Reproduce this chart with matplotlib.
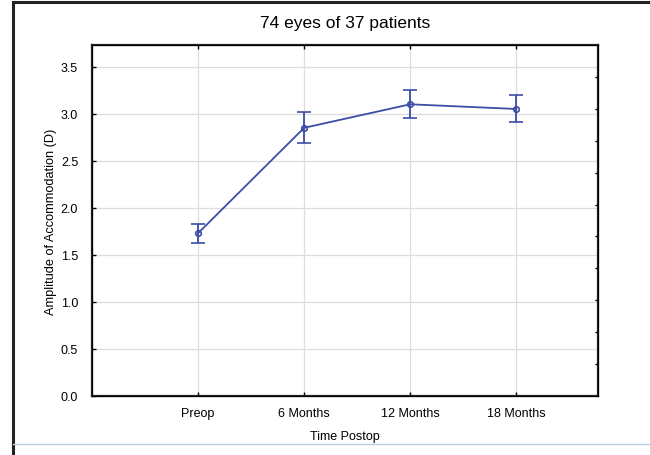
import matplotlib
matplotlib.use("Agg")
import matplotlib.pyplot as plt
import numpy as np
from matplotlib.lines import Line2D

plt.rcParams['font.family'] = ['Liberation Sans', 'DejaVu Sans']

labels = ['Preop', '6 Months', '12 Months', '18 Months']
means = [1.73, 2.85, 3.10, 3.05]
lower = [1.63, 2.69, 2.95, 2.91]
upper = [1.83, 3.02, 3.25, 3.20]

x = np.arange(1, len(labels) + 1)
yerr = [np.array(means) - np.array(lower), np.array(upper) - np.array(means)]

fig = plt.figure(figsize=(6.5, 4.56), dpi=100)
ax = fig.add_axes([92/650, 1 - 397/456, (598-92)/650, (397-46)/456])

col = '#3b4da6'
ax.errorbar(x, means, yerr=yerr, color=col, lw=1.3, marker='o', ms=4,
            mfc='none', mec=col, mew=1.2, capsize=5, elinewidth=1.3, capthick=1.3)

ax.set_xlim(0, 4.77)
ax.set_ylim(0, 3.73)
ax.set_xticks(x)
ax.set_xticklabels(labels)
ax.set_yticks(np.arange(0, 3.51, 0.5))
ax.set_yticklabels(['%.1f' % v for v in np.arange(0, 3.51, 0.5)])
ax.tick_params(axis='both', labelsize=9, direction='in', length=3, width=1)
ax.tick_params(axis='x', top=True, pad=8)
ax.tick_params(axis='y', pad=10)
ax.grid(True, color='#dddddd', lw=0.9)
ax.set_axisbelow(True)
for s in ax.spines.values():
    s.set_linewidth(1.6)
    s.set_color('#222222')

# small ticks on the right edge
ax2 = ax.twinx()
ax2.set_ylim(0, 11)
ax2.set_yticks(np.arange(1, 11))
ax2.tick_params(axis='y', direction='in', length=2, width=1, labelright=False)

ax.set_title('74 eyes of 37 patients', fontsize=12.5, pad=13)
ax.set_xlabel('Time Postop', fontsize=9, labelpad=8)
ax.set_ylabel('Amplitude of Accommodation (D)', fontsize=9.2, labelpad=2.5)

# frame lines of the original figure
fig.add_artist(Line2D([13/650, 13/650], [0, 1 - 3/456], color='#222222', lw=2.2))
fig.add_artist(Line2D([13/650, 1], [1 - 3/456, 1 - 3/456], color='#222222', lw=2.2))
fig.add_artist(Line2D([13/650, 1], [1 - 445/456, 1 - 445/456], color='#b8d0e6', lw=1))

fig.savefig('out.png', dpi=100)
